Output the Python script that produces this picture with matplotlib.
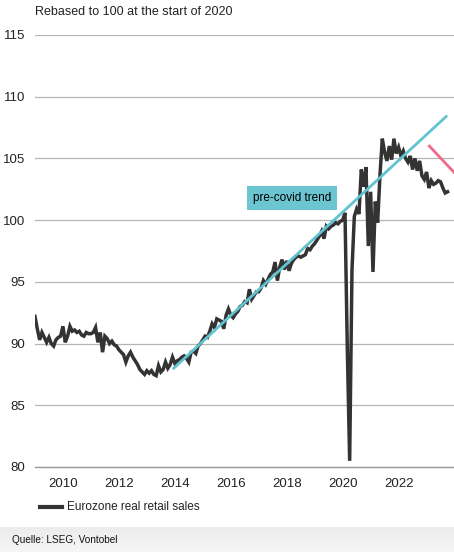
import matplotlib

matplotlib.use("Agg")
import matplotlib.pyplot as plt
import numpy as np
from matplotlib import font_manager

# Eurozone real retail sales, monthly, rebased to 100 at the start of 2020
sales_2009 = [92.2, 91.2, 90.3, 90.9, 90.5, 90.1, 90.5, 90.0, 89.8, 90.3, 90.5, 90.6]
sales_2010 = [91.4, 90.1, 90.6, 91.4, 91.0, 91.1, 90.9, 91.0, 90.7, 90.6, 90.9, 90.8]
sales_2011 = [90.8, 90.9, 91.3, 90.1, 90.9, 89.3, 90.6, 90.4, 90.0, 90.2, 89.9, 89.8]
sales_2012 = [89.5, 89.3, 89.1, 88.5, 89.0, 89.3, 88.9, 88.6, 88.3, 87.9, 87.7, 87.5]
sales_2013 = [87.8, 87.6, 87.8, 87.5, 87.4, 88.2, 87.7, 87.9, 88.5, 88.0, 88.3, 88.9]
sales_2014 = [88.4, 88.6, 88.7, 88.9, 89.0, 88.8, 88.5, 89.3, 89.4, 89.2, 89.8, 90.0]
sales_2015 = [90.3, 90.6, 90.5, 91.0, 91.6, 91.3, 92.0, 91.9, 91.8, 91.2, 92.3, 92.8]
sales_2016 = [92.3, 92.1, 92.4, 92.6, 93.0, 93.1, 93.4, 93.3, 94.4, 93.6, 93.9, 94.2]
sales_2017 = [94.2, 94.5, 95.1, 94.8, 95.2, 95.6, 95.8, 96.6, 95.1, 96.2, 96.8, 96.0]
sales_2018 = [96.7, 95.9, 96.5, 96.8, 97.0, 97.1, 97.0, 97.1, 97.2, 97.7, 97.6, 97.9]
sales_2019 = [98.1, 98.4, 98.7, 99.1, 98.5, 99.5, 99.3, 99.5, 99.6, 99.8, 99.7, 99.9]
sales_2020 = [100.0, 100.6, 89.5, 80.5, 96.0, 100.3, 100.9, 100.5, 104.1, 102.7, 104.3, 97.9]
sales_2021 = [102.3, 95.8, 101.5, 99.8, 103.6, 106.6, 105.5, 104.8, 106.0, 104.9, 106.6, 105.4]
sales_2022 = [105.9, 105.2, 105.6, 105.0, 104.7, 105.2, 104.1, 105.0, 104.0, 104.8, 103.6, 103.3]
sales_2023 = [103.9, 102.6, 103.2, 102.9, 103.0, 103.2, 103.1, 102.6, 102.2, 102.3]
start_year = 2009

trend_x = [2013.96, 2023.7]
trend_y = [88.0, 108.4]
arrow_x = [2023.1, 2024.3]
arrow_y = [106.0, 103.1]

y_ticks = [80, 85, 90, 95, 100, 105, 110, 115]
x_ticks = [2010, 2012, 2014, 2016, 2018, 2020, 2022]

sales = np.array(sales_2009 + sales_2010 + sales_2011 + sales_2012 + sales_2013
                 + sales_2014 + sales_2015 + sales_2016 + sales_2017 + sales_2018
                 + sales_2019 + sales_2020 + sales_2021 + sales_2022 + sales_2023)
months = start_year + np.arange(len(sales)) / 12

names = {f.name for f in font_manager.fontManager.ttflist}
narrow = "Liberation Sans Narrow" if "Liberation Sans Narrow" in names else "Liberation Sans"
plt.rcParams["font.family"] = [narrow, "DejaVu Sans"]

fig = plt.figure(figsize=(4.54, 5.52), dpi=100)
ax = fig.add_axes([0.077, 0.154, 0.923, 0.7826])

ax.plot(months, sales, color="#333333", linewidth=2.5, solid_joinstyle="miter", zorder=3)
ax.plot(trend_x, trend_y, color="#62C3D0", linewidth=2.0, zorder=4)
ax.plot(arrow_x, arrow_y, color="#F06A8A", linewidth=2.0, zorder=4)
ax.text(2018.2, 101.8, "pre-covid trend", fontsize=8.5, ha="center", va="center",
        bbox=dict(boxstyle="square,pad=0.5", facecolor="#6CC6D2", edgecolor="none"), zorder=5)

ax.set_xlim(2009.0, 2023.98)
ax.set_ylim(80, 115)
ax.set_yticks(y_ticks)
ax.set_xticks(x_ticks)
ax.tick_params(axis="both", length=0, labelsize=9.5, colors="#222222")
ax.tick_params(axis="x", pad=8)
ax.tick_params(axis="y", pad=7)
ax.grid(axis="y", color="#b5b5b5", linewidth=0.9)
ax.set_axisbelow(True)
for side in ["top", "right", "left"]:
    ax.spines[side].set_visible(False)
ax.spines["bottom"].set_color("#9a9a9a")
ax.spines["bottom"].set_linewidth(1.0)

fig.text(0.077, 0.978, "Rebased to 100 at the start of 2020", fontsize=9,
         ha="left", va="center", color="#222222")

# legend
fig.add_artist(plt.Line2D([0.088, 0.137], [0.082, 0.082], color="#333333", linewidth=3))
fig.text(0.148, 0.082, "Eurozone real retail sales", fontsize=8.5, ha="left", va="center",
         color="#222222")

# footer band
band = fig.add_axes([0, 0, 1, 0.045])
grad = np.linspace(0, 1, 50).reshape(-1, 1)
band.imshow(grad, aspect="auto", cmap=matplotlib.colors.LinearSegmentedColormap.from_list(
    "band", ["#ececec", "#f6f6f6"]), extent=[0, 1, 0, 1])
band.axis("off")
fig.text(0.026, 0.012, "Quelle: LSEG, Vontobel", fontsize=7.2, family="Liberation Sans",
         ha="left", va="bottom", color="#111111")

fig.savefig("out.png", dpi=100)
